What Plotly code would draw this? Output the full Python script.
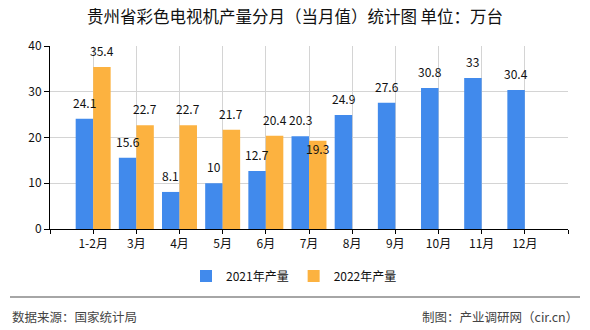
import plotly.graph_objects as go

categories = ["1-2月", "3月", "4月", "5月", "6月", "7月", "8月", "9月", "10月", "11月", "12月"]
values_2021 = [24.1, 15.6, 8.1, 10, 12.7, 20.3, 24.9, 27.6, 30.8, 33, 30.4]
values_2022 = [35.4, 22.7, 22.7, 21.7, 20.4, 19.3, None, None, None, None, None]
series_names = ["2021年产量", "2022年产量"]
colors = ["#418AEC", "#FCB240"]
y_ticks = [0, 10, 20, 30, 40]

FONT = "SimSun, 'Noto Sans CJK SC', sans-serif"
x_idx = list(range(len(categories)))

fig = go.Figure()
fig.add_trace(go.Bar(x=x_idx, y=values_2021, name=series_names[0], marker_color=colors[0],
                     marker_line_width=0))
fig.add_trace(go.Bar(x=x_idx, y=values_2022, name=series_names[1], marker_color=colors[1],
                     marker_line_width=0))

annotations = []
for shift, vals in ((-8.8, values_2021), (8.8, values_2022)):
    for i, v in zip(x_idx, vals):
        if v is None:
            continue
        inside = (shift > 0 and i == 5)
        annotations.append(dict(
            x=i, y=v, xref="x", yref="y", text=f"{v:g}", showarrow=False,
            xshift=shift, yshift=(-8 if inside else 6),
            yanchor=("middle" if inside else "bottom"),
            font=dict(family=FONT, size=12, color="#111")))

annotations.append(dict(xref="paper", yref="paper", x=(10 - 50) / 518, y=(229 - 316) / 183,
                        xanchor="left", yanchor="middle", showarrow=False,
                        text="数据来源：国家统计局", font=dict(family=FONT, size=12.5, color="#444")))
annotations.append(dict(xref="paper", yref="paper", x=(580 - 50) / 518, y=(229 - 316) / 183,
                        xanchor="right", yanchor="middle", showarrow=False,
                        text="制图：产业调研网（cir.cn）", font=dict(family=FONT, size=12.5, color="#444")))

fig.update_layout(
    width=590, height=330,
    margin=dict(l=50, r=22, t=46, b=101),
    paper_bgcolor="white", plot_bgcolor="white",
    barmode="group", bargap=0.19, bargroupgap=0,
    title=dict(text="贵州省彩色电视机产量分月（当月值）统计图 单位：万台",
               x=0.5, xref="container", xanchor="center",
               y=1 - 17 / 330, yref="container", yanchor="middle",
               font=dict(family=FONT, size=16.5, color="#111")),
    xaxis=dict(range=[-1, 11], tickvals=[-1] + x_idx + [11], ticktext=[""] + categories + [""],
               showgrid=True, gridcolor="#d4d4d4", gridwidth=1,
               showline=True, linecolor="black", linewidth=1,
               ticks="outside", ticklen=4, tickcolor="black",
               tickfont=dict(family=FONT, size=12, color="#111"), zeroline=False, fixedrange=True),
    yaxis=dict(range=[0, 40], tickvals=y_ticks, showgrid=True, gridcolor="#d4d4d4", gridwidth=1,
               showline=True, linecolor="black", linewidth=1,
               ticks="outside", ticklen=5, tickcolor="black",
               tickfont=dict(family=FONT, size=12, color="#111"), zeroline=False),
    legend=dict(orientation="h", x=(294 - 50) / 518, xanchor="center",
                y=(229 - 276) / 183, yanchor="middle",
                font=dict(family="'Noto Sans CJK SC', sans-serif", size=12, color="#111"),
                itemwidth=30),
    annotations=annotations,
    shapes=[dict(type="line", xref="paper", yref="paper",
                 x0=(10 - 50) / 518, x1=(580 - 50) / 518,
                 y0=(229 - 297) / 183, y1=(229 - 297) / 183,
                 line=dict(color="#888", width=1.5))],
    showlegend=True,
)

fig.write_html("out.html")
